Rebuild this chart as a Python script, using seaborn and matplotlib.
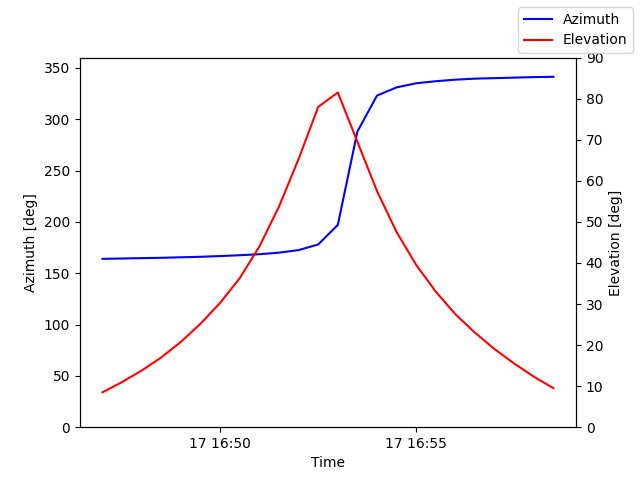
import matplotlib
matplotlib.use("Agg")
import matplotlib.pyplot as plt
import matplotlib.dates as mdates
import seaborn as sns
import pandas as pd

times = pd.date_range("2024-01-17 16:47:00", periods=24, freq="30s")
azimuth = [164, 164.3, 164.7, 165, 165.5, 166, 166.7, 167.5, 168.5, 170, 172.5, 178,
           197, 288, 323, 331, 335, 337, 338.5, 339.5, 340, 340.5, 341, 341.3]
elevation = [8.5, 11, 13.8, 17, 20.8, 25.2, 30.3, 36.3, 44, 53.7, 65.3, 78,
             81.5, 69.5, 57.5, 47.5, 39.5, 33, 27.5, 23, 19, 15.5, 12.3, 9.5]

df = pd.DataFrame({"Time": times, "Azimuth": azimuth, "Elevation": elevation})

fig, ax = plt.subplots(figsize=(6.4, 4.8), dpi=100)
sns.lineplot(data=df, x="Time", y="Azimuth", ax=ax, color="blue", label="Azimuth", legend=False)
ax2 = ax.twinx()
sns.lineplot(data=df, x="Time", y="Elevation", ax=ax2, color="red", label="Elevation", legend=False)
ax.set_ylim(0, 360)
ax2.set_ylim(0, 90)
ax.set_ylabel("Azimuth [deg]")
ax2.set_ylabel("Elevation [deg]")
ax.set_xlabel("Time")
ax.xaxis.set_major_locator(mdates.MinuteLocator(byminute=[50, 55]))
ax.xaxis.set_major_formatter(mdates.DateFormatter("%d %H:%M"))
fig.legend(loc="upper right")
fig.subplots_adjust(left=0.125, right=0.9, top=0.88, bottom=0.11)
fig.savefig("out.png", dpi=100)
